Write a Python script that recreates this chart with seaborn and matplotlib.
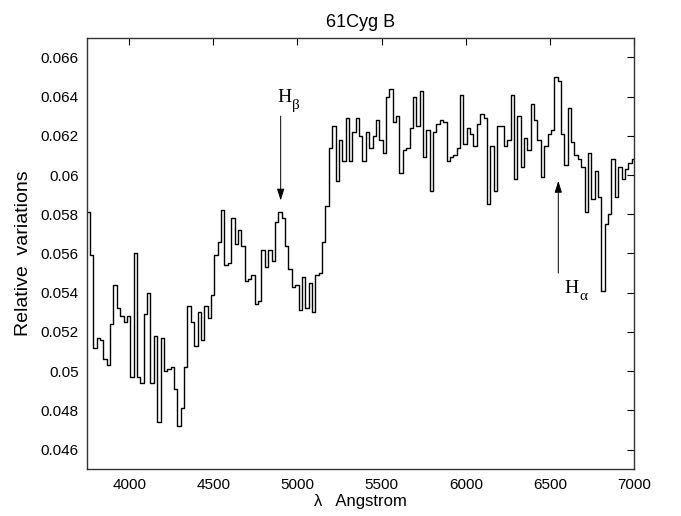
import numpy as np
import pandas as pd
import matplotlib
matplotlib.use("Agg")
import matplotlib.pyplot as plt
import seaborn as sns
from matplotlib.ticker import FuncFormatter

# Data: relative variations per 20-Angstrom bin (first bin clipped at 3750)
values = [
    0.0581, 0.0559, 0.0512, 0.0517, 0.0516, 0.0506, 0.0503, 0.0524, 0.0544, 0.0532,
    0.0528, 0.0525, 0.0528, 0.0497, 0.0560, 0.0497, 0.0494, 0.0529, 0.0540, 0.0494,
    0.0518, 0.0474, 0.0517, 0.0500, 0.0501, 0.0502, 0.0491, 0.0472, 0.0481, 0.0502,
    0.0533, 0.0525, 0.0513, 0.0530, 0.0516, 0.0533, 0.0527, 0.0539, 0.0559, 0.0566,
    0.0582, 0.0554, 0.0555, 0.0578, 0.0565, 0.0572, 0.0564, 0.0546, 0.0547, 0.0549,
    0.0534, 0.0536, 0.0562, 0.0553, 0.0562, 0.0556, 0.0576, 0.0581, 0.0578, 0.0564,
    0.0552, 0.0543, 0.0544, 0.0531, 0.0548, 0.0532, 0.0545, 0.0530, 0.0549, 0.0550,
    0.0566, 0.0584, 0.0614, 0.0625, 0.0597, 0.0618, 0.0607, 0.0629, 0.0607, 0.0622,
    0.0629, 0.0620, 0.0607, 0.0622, 0.0614, 0.0620, 0.0628, 0.0618, 0.0611, 0.0640,
    0.0644, 0.0627, 0.0630, 0.0601, 0.0613, 0.0614, 0.0624, 0.0640, 0.0625, 0.0643,
    0.0609, 0.0623, 0.0592, 0.0622, 0.0626, 0.0628, 0.0627, 0.0607, 0.0609, 0.0610,
    0.0614, 0.0641, 0.0616, 0.0624, 0.0621, 0.0615, 0.0626, 0.0631, 0.0629, 0.0585,
    0.0615, 0.0592, 0.0625, 0.0625, 0.0615, 0.0618, 0.0641, 0.0598, 0.0630, 0.0604,
    0.0619, 0.0613, 0.0636, 0.0628, 0.0618, 0.0599, 0.0615, 0.0621, 0.0623, 0.0650,
    0.0648, 0.0621, 0.0605, 0.0634, 0.0617, 0.0610, 0.0608, 0.0604, 0.0581, 0.0611,
    0.0588, 0.0602, 0.0589, 0.0541, 0.0575, 0.0580, 0.0608, 0.0589, 0.0604, 0.0598,
    0.0603, 0.0606, 0.0608,
]
wl_start = 3750.0
first_edge = 3766.0
bin_width = 20.0
xlim = (3750, 7000)
ylim = (0.045, 0.067)
xticks = [4000, 4500, 5000, 5500, 6000, 6500, 7000]
yticks = [0.046, 0.048, 0.050, 0.052, 0.054, 0.056, 0.058, 0.060, 0.062, 0.064, 0.066]
title = "61Cyg B"
xlabel = "\u03bb   Angstrom"
ylabel = "Relative  variations"

# bin left edges
edges = [wl_start] + [first_edge + bin_width * k for k in range(len(values) - 1)]
x = edges + [xlim[1]]
y = values + [values[-1]]
df = pd.DataFrame({"wavelength": x, "variation": y})

sns.set_style("white")
plt.rcParams["font.family"] = ["Liberation Sans", "DejaVu Sans"]
plt.rcParams["text.color"] = "black"
plt.rcParams["axes.labelcolor"] = "black"

fig = plt.figure(figsize=(6.81, 5.16), dpi=100)
ax = fig.add_axes([0.128, 0.0905, 0.803, 0.8365])

sns.lineplot(data=df, x="wavelength", y="variation", ax=ax, estimator=None,
             sort=False, drawstyle="steps-post", color="black", linewidth=1.0)

ax.set_xlim(*xlim)
ax.set_ylim(*ylim)
ax.set_xticks(xticks)
ax.set_yticks(yticks)
ax.yaxis.set_major_formatter(FuncFormatter(lambda v, p: "%g" % round(v, 4)))
ax.tick_params(direction="in", length=5, width=0.8, top=True, right=True,
               labelsize=11, colors="black", pad=6)
for s in ax.spines.values():
    s.set_color("#333333")
    s.set_linewidth(1.0)

ax.set_title(title, fontsize=13, pad=8, color="black")
ax.set_xlabel(xlabel, fontsize=12, labelpad=2, color="black")
ax.set_ylabel(ylabel, fontsize=14, labelpad=6, color="black")

arrow_kw = dict(arrowstyle="-|>,head_length=0.7,head_width=0.22", color="black",
                linewidth=0.7, shrinkA=0, shrinkB=0)
ax.annotate("", xy=(4900, 0.0587), xytext=(4900, 0.0630), arrowprops=arrow_kw)
ax.annotate("", xy=(6550, 0.0597), xytext=(6550, 0.0550), arrowprops=arrow_kw)

serif = ["Liberation Serif", "DejaVu Serif"]
ax.text(4883, 0.0637, "H", fontsize=14, family=serif, ha="left", va="baseline")
ax.text(4970, 0.06335, "\u03b2", fontsize=11, family=serif, ha="left", va="baseline")
ax.text(6588, 0.0540, "H", fontsize=14, family=serif, ha="left", va="baseline")
ax.text(6674, 0.05365, "\u03b1", fontsize=11, family=serif, ha="left", va="baseline")

fig.savefig("out.png", dpi=100)
